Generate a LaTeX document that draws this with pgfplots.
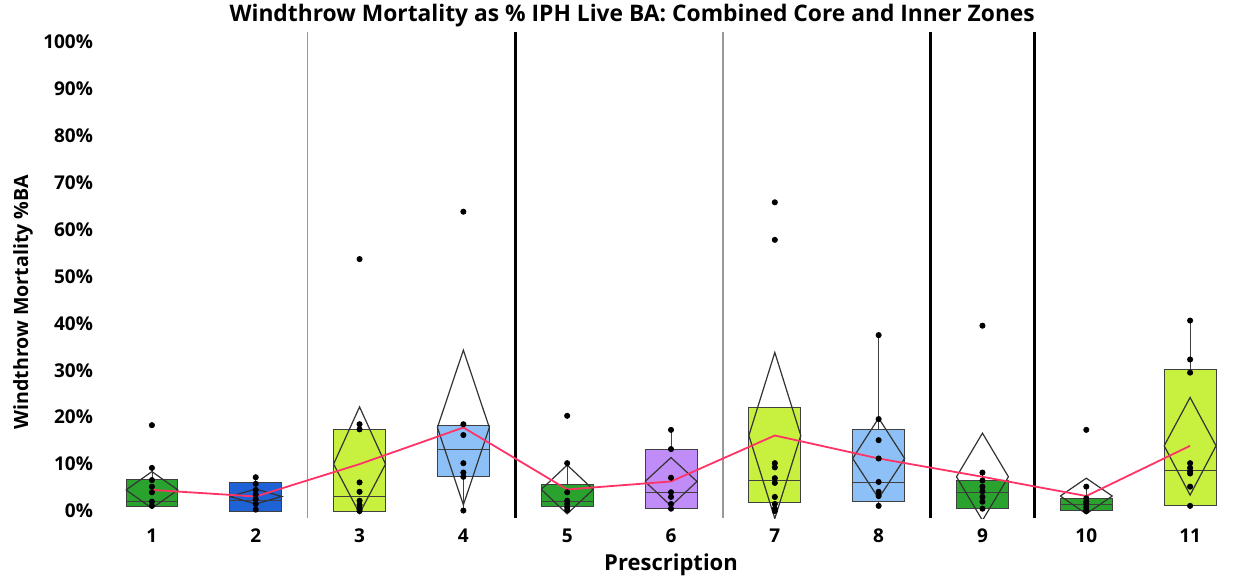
\documentclass[border=0pt]{standalone}
\usepackage{pgfplots}
\pgfplotsset{compat=1.18}
\usepgfplotslibrary{statistics}
\usepackage{fontspec}
\setmainfont{Open Sans}

\definecolor{cgreen}{HTML}{2AA32E}
\definecolor{cblue}{HTML}{1E62D6}
\definecolor{clime}{HTML}{C8F03E}
\definecolor{clblue}{HTML}{8EC0F8}
\definecolor{cpurple}{HTML}{C08CF8}
\definecolor{cred}{HTML}{FF3366}

% one box: position, lower whisker, q1, median, q3, upper whisker, fill
\newcommand{\bx}[7]{%
  \addplot[draw=black!75, fill=#7, mark=none,
    boxplot prepared={draw position=#1, lower whisker=#2, lower quartile=#3,
      median=#4, upper quartile=#5, upper whisker=#6}] coordinates {};}

\begin{document}
\begin{tikzpicture}
\begin{axis}[
  scale only axis, width=570.9pt, height=243pt,
  xmin=0.5, xmax=11.5, ymin=-1.5, ymax=102.1,
  axis line style={draw=none},
  major tick length=0pt,
  xtick={1,...,11},
  ytick={0,10,...,100},
  yticklabel={\pgfmathprintnumber{\tick}\%},
  /pgf/number format/assume math mode=true,
  tick label style={font=\bfseries\fontsize{9.5}{11}\selectfont},
  xticklabel style={yshift=-2pt},
  every axis title/.style={at={(axis description cs:0.466,1)}, anchor=base, yshift=5pt, inner sep=0pt},
  title={Windthrow Mortality as \% IPH Live BA: Combined Core and Inner Zones},
  title style={font=\bfseries\fontsize{11.4}{13}\selectfont},
  xlabel={Prescription},
  xlabel style={font=\bfseries\fontsize{11}{13}\selectfont, at={(axis description cs:0.5,-0.0967)}, anchor=center},
  ylabel={Windthrow Mortality \%BA},
  ylabel style={font=\bfseries\fontsize{9.8}{12}\selectfont, at={(axis description cs:-0.0674,0.444)}, anchor=center},
  boxplot/draw direction=y,
  boxplot/box extend=0.5,
  boxplot/whisker extend=0,
]
% separators
\addplot[gray!80, line width=0.7pt] coordinates {(2.5,-1.5) (2.5,102.1)};
\addplot[gray!80, line width=0.7pt] coordinates {(6.5,-1.5) (6.5,102.1)};
\addplot[black, line width=1.5pt] coordinates {(4.5,-1.5) (4.5,102.1)};
\addplot[black, line width=1.5pt] coordinates {(8.5,-1.5) (8.5,102.1)};
\addplot[black, line width=1.5pt] coordinates {(9.5,-1.5) (9.5,102.1)};

% boxes
\bx{1}{0.9}{0.9}{2.0}{6.8}{9.2}{cgreen}
\bx{2}{0}{0}{2.2}{6.1}{7.3}{cblue}
\bx{3}{0}{0}{3.1}{17.5}{18.5}{clime}
\bx{4}{0}{7.3}{13.2}{18.3}{18.5}{clblue}
\bx{5}{0.2}{0.9}{2.1}{5.6}{10.2}{cgreen}
\bx{6}{0.5}{0.6}{3.9}{13.2}{17.3}{cpurple}
\bx{7}{0}{1.9}{6.6}{22.1}{22.1}{clime}
\bx{8}{1.1}{2.1}{6.2}{17.3}{37.5}{clblue}
\bx{9}{0.5}{0.6}{4.0}{6.5}{8.2}{cgreen}
\bx{10}{0}{0.1}{1.4}{2.7}{5.2}{cgreen}
\bx{11}{1.1}{1.1}{8.6}{30.1}{40.6}{clime}

% means diamonds
\addplot[black!80, line width=0.6pt] coordinates {(0.75,4.5) (1,8.4) (1.25,4.5) (1,0.6) (0.75,4.5)};
\addplot[black!80, line width=0.6pt] coordinates {(1.75,3.1) (2,4.7) (2.25,3.1) (2,1.5) (1.75,3.1)};
\addplot[black!80, line width=0.6pt] coordinates {(2.75,10.0) (3,22.2) (3.25,10.0) (3,-0.5) (2.75,10.0)};
\addplot[black!80, line width=0.6pt] coordinates {(3.75,17.8) (4,34.3) (4.25,17.8) (4,1.3) (3.75,17.8)};
\addplot[black!80, line width=0.6pt] coordinates {(4.75,4.6) (5,9.8) (5.25,4.6) (5,-0.6) (4.75,4.6)};
\addplot[black!80, line width=0.6pt] coordinates {(5.75,6.3) (6,11.4) (6.25,6.3) (6,1.1) (5.75,6.3)};
\addplot[black!80, line width=0.6pt] coordinates {(6.75,16.1) (7,33.8) (7.25,16.1) (7,-1.6) (6.75,16.1)};
\addplot[black!80, line width=0.6pt] coordinates {(7.75,11.2) (8,19.8) (8.25,11.2) (8,2.7) (7.75,11.2)};
\addplot[black!80, line width=0.6pt] coordinates {(8.75,7.3) (9,16.6) (9.25,7.3) (9,-2.0) (8.75,7.3)};
\addplot[black!80, line width=0.6pt] coordinates {(9.75,3.2) (10,7.0) (10.25,3.2) (10,-0.6) (9.75,3.2)};
\addplot[black!80, line width=0.6pt] coordinates {(10.75,13.9) (11,24.2) (11.25,13.9) (11,3.4) (10.75,13.9)};

% observations
\addplot[only marks, mark=*, mark size=1.3pt, black] coordinates {
(1,18.3) (1,9.2) (1,6.6) (1,5.2) (1,4.0) (1,2.0) (1,1.1)
(2,7.2) (2,5.8) (2,4.5) (2,3.5) (2,2.5) (2,1.5) (2,0.3)
(3,53.7) (3,18.5) (3,17.4) (3,6.1) (3,4.1) (3,2.2) (3,1.3) (3,0.4) (3,0)
(4,63.8) (4,18.5) (4,16.2) (4,10.2) (4,8.2) (4,7.3) (4,0.1)
(5,20.3) (5,10.2) (5,4.0) (5,2.2) (5,1.5) (5,0.8) (5,0.2)
(6,17.3) (6,13.2) (6,7.1) (6,4.0) (6,3.0) (6,1.5) (6,0.5)
(7,65.8) (7,57.8) (7,10.2) (7,9.3) (7,7.0) (7,6.0) (7,3.0) (7,1.5) (7,0.5) (7,0)
(8,37.5) (8,19.6) (8,15.1) (8,11.2) (8,6.2) (8,4.1) (8,3.2) (8,1.1)
(9,39.5) (9,8.2) (9,6.5) (9,5.2) (9,4.2) (9,3.0) (9,2.0) (9,0.5)
(10,17.3) (10,5.2) (10,2.7) (10,2.0) (10,1.5) (10,0.8) (10,0.2) (10,0)
(11,40.6) (11,32.3) (11,29.5) (11,10.2) (11,9.2) (11,8.5) (11,8.0) (11,5.2) (11,1.1)
};

% means line
\addplot[cred, line width=0.9pt] coordinates {
(1,4.5) (2,3.1) (3,10.0) (4,17.8) (5,4.6) (6,6.3) (7,16.1) (8,11.2) (9,7.3) (10,3.2) (11,13.9)
};
\end{axis}
\pgfresetboundingbox
\path ([shift={(-50pt,-31.5pt)}]current axis.south west) rectangle ([shift={(5pt,16pt)}]current axis.north east);
\end{tikzpicture}
\end{document}
